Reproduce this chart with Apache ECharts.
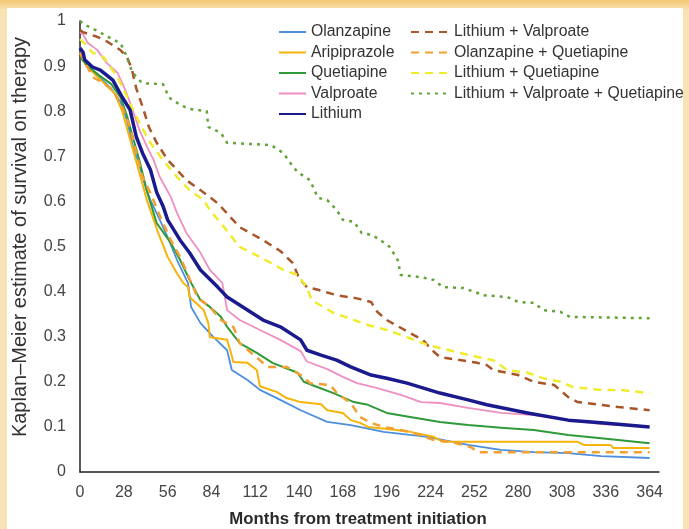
<!DOCTYPE html>
<html>
<head>
<meta charset="utf-8">
<script src="https://cdn.jsdelivr.net/npm/echarts@6/dist/echarts.min.js"></script>
<style>
  html, body { margin: 0; padding: 0; background: #f9e2b4; }
  #chart { width: 689px; height: 529px; }
</style>
</head>
<body>
<div id="chart"></div>
<script>
// Kaplan–Meier survival-on-therapy curves, [day, estimate] pairs
const olanzapine = [[0,0.93],[3,0.91],[8,0.89],[14,0.87],[20,0.85],[26,0.82],[30,0.78],[34,0.72],[38,0.68],[42,0.63],[45,0.603],[51,0.559],[56,0.521],[62,0.47],[69,0.419],[71,0.366],[77,0.33],[85,0.3],[94,0.27],[97,0.226],[107,0.204],[115,0.182],[128,0.16],[141,0.137],[158,0.111],[173,0.104],[194,0.089],[222,0.078],[248,0.06],[269,0.049],[290,0.044],[312,0.042],[333,0.035],[364,0.031]];
const aripiprazole = [[0,0.93],[4,0.9],[10,0.88],[16,0.86],[22,0.84],[27,0.8],[31,0.75],[35,0.7],[39,0.65],[43,0.6],[50,0.53],[56,0.477],[62,0.44],[66,0.419],[69,0.41],[70,0.388],[79,0.359],[82,0.33],[83,0.299],[94,0.293],[96,0.27],[98,0.244],[107,0.242],[113,0.226],[115,0.19],[126,0.177],[132,0.164],[141,0.155],[154,0.15],[158,0.137],[168,0.131],[173,0.115],[179,0.109],[184,0.1],[198,0.095],[211,0.089],[226,0.078],[232,0.067],[318,0.067],[322,0.06],[339,0.06],[341,0.053],[364,0.053]];
const quetiapine = [[0,0.92],[5,0.9],[12,0.88],[20,0.86],[26,0.83],[30,0.79],[34,0.74],[38,0.69],[43,0.62],[49,0.552],[58,0.508],[64,0.47],[70,0.426],[77,0.381],[83,0.366],[90,0.344],[94,0.322],[102,0.286],[113,0.264],[123,0.242],[139,0.22],[143,0.2],[152,0.188],[162,0.175],[175,0.155],[184,0.149],[196,0.131],[211,0.122],[230,0.111],[248,0.104],[269,0.098],[290,0.093],[312,0.082],[333,0.075],[364,0.064]];
const valproate = [[0,0.975],[2,0.97],[5,0.951],[11,0.936],[17,0.907],[24,0.885],[29,0.847],[33,0.809],[38,0.758],[43,0.72],[47,0.692],[51,0.654],[58,0.61],[62,0.574],[68,0.53],[77,0.486],[83,0.448],[91,0.419],[94,0.359],[102,0.337],[115,0.315],[128,0.293],[141,0.268],[145,0.245],[158,0.228],[168,0.211],[177,0.197],[190,0.186],[205,0.171],[218,0.155],[230,0.153],[248,0.142],[269,0.131],[290,0.126],[312,0.115],[333,0.106],[364,0.1]];
const lithium = [[0,0.94],[2,0.93],[3,0.914],[8,0.898],[13,0.891],[17,0.88],[21,0.869],[27,0.831],[32,0.803],[36,0.743],[40,0.707],[45,0.67],[49,0.62],[53,0.59],[56,0.559],[64,0.514],[70,0.486],[77,0.448],[88,0.41],[94,0.388],[107,0.359],[117,0.337],[128,0.322],[141,0.293],[145,0.27],[154,0.259],[164,0.248],[173,0.233],[186,0.215],[196,0.208],[209,0.197],[230,0.175],[248,0.16],[260,0.149],[286,0.131],[312,0.115],[333,0.109],[364,0.1]];
const lithiumValproate = [[0,0.98],[2,0.975],[11,0.965],[17,0.955],[26,0.935],[30,0.92],[33,0.895],[36,0.85],[40,0.81],[44,0.765],[49,0.73],[56,0.692],[62,0.67],[68,0.647],[77,0.625],[88,0.596],[102,0.543],[117,0.514],[128,0.49],[136,0.463],[140,0.43],[145,0.41],[152,0.404],[164,0.392],[177,0.385],[186,0.377],[190,0.355],[196,0.337],[211,0.308],[219,0.293],[225,0.27],[230,0.255],[254,0.242],[260,0.237],[264,0.226],[280,0.215],[290,0.2],[303,0.193],[312,0.166],[318,0.155],[333,0.149],[344,0.144],[364,0.137]];
const olanzapineQuetiapine = [[0,0.93],[3,0.91],[6,0.89],[8,0.876],[15,0.862],[21,0.847],[27,0.809],[32,0.765],[36,0.707],[40,0.654],[45,0.619],[52,0.56],[58,0.514],[64,0.477],[75,0.388],[83,0.366],[90,0.337],[98,0.322],[102,0.286],[120,0.233],[132,0.233],[141,0.215],[147,0.197],[160,0.193],[164,0.175],[173,0.153],[179,0.122],[186,0.109],[194,0.1],[211,0.089],[226,0.071],[237,0.067],[250,0.055],[254,0.044],[364,0.044]];
const lithiumQuetiapine = [[0,0.96],[3,0.95],[8,0.93],[15,0.92],[18,0.905],[24,0.875],[28,0.847],[33,0.809],[38,0.774],[45,0.73],[53,0.692],[62,0.654],[70,0.625],[79,0.603],[83,0.581],[92,0.543],[102,0.499],[115,0.477],[130,0.448],[139,0.437],[145,0.41],[148,0.381],[162,0.353],[184,0.326],[196,0.315],[209,0.299],[222,0.282],[230,0.275],[243,0.264],[254,0.255],[264,0.248],[273,0.226],[286,0.22],[296,0.208],[307,0.2],[315,0.188],[333,0.182],[345,0.182],[364,0.175]];
const lithiumValproateQuetiapine = [[0,1.0],[4,0.99],[10,0.98],[18,0.965],[26,0.95],[30,0.92],[33,0.89],[36,0.875],[40,0.862],[53,0.86],[57,0.83],[64,0.814],[70,0.805],[81,0.8],[82,0.765],[90,0.752],[94,0.73],[122,0.725],[130,0.707],[134,0.687],[139,0.665],[147,0.647],[152,0.608],[158,0.603],[164,0.581],[168,0.559],[175,0.555],[180,0.53],[187,0.525],[192,0.514],[198,0.499],[203,0.47],[205,0.437],[218,0.432],[226,0.426],[232,0.41],[245,0.408],[254,0.397],[258,0.392],[273,0.388],[280,0.377],[290,0.375],[296,0.359],[307,0.355],[313,0.344],[364,0.341]];

const xTicks = [0, 28, 56, 84, 112, 140, 168, 196, 224, 252, 280, 308, 336, 364];
const xTitle = 'Months from treatment initiation';
const yTitle = 'Kaplan–Meier estimate of survival on therapy';

const seriesDefs = [
  { name: 'Olanzapine', data: olanzapine, color: '#4d8fdc', width: 1.8, type: 'solid' },
  { name: 'Aripiprazole', data: aripiprazole, color: '#f6b40a', width: 2, type: 'solid' },
  { name: 'Quetiapine', data: quetiapine, color: '#2f9a3a', width: 2, type: 'solid' },
  { name: 'Valproate', data: valproate, color: '#ef8fc2', width: 1.8, type: 'solid' },
  { name: 'Lithium', data: lithium, color: '#1a1a8e', width: 3.5, type: 'solid' },
  { name: 'Lithium + Valproate', data: lithiumValproate, color: '#a8552a', width: 2.5, type: [8, 6] },
  { name: 'Olanzapine + Quetiapine', data: olanzapineQuetiapine, color: '#f2a032', width: 2.5, type: [8, 6] },
  { name: 'Lithium + Quetiapine', data: lithiumQuetiapine, color: '#eeec2c', width: 2.5, type: [8, 6] },
  { name: 'Lithium + Valproate + Quetiapine', data: lithiumValproateQuetiapine, color: '#62a43a', width: 2.5, type: [3, 5] }
];

const FONT = 'Liberation Sans, Arial, sans-serif';
const chart = echarts.init(document.getElementById('chart'), null, { renderer: 'canvas' });

const legendText = { fontFamily: FONT, fontSize: 15.8, color: '#333' };
const legendBase = {
  orient: 'vertical', top: 19,
  itemHeight: 12, itemGap: 4.5,
  itemStyle: { opacity: 0 },
  textStyle: legendText
};

chart.setOption({
  animation: false,
  backgroundColor: '#f9e2b4',
  graphic: [
    {
      type: 'rect', shape: { x: 0, y: 0, width: 689, height: 9 }, z: -11,
      style: { fill: new echarts.graphic.LinearGradient(0, 0, 0, 1, [
        { offset: 0, color: '#f3c875' }, { offset: 1, color: '#f8dda8' }
      ]) }
    },
    { type: 'rect', shape: { x: 7, y: 8, width: 676, height: 521 }, style: { fill: '#ffffff' }, z: -10 },
    {
      type: 'text', x: 20, y: 237, rotation: Math.PI / 2,
      style: { text: yTitle, font: '20px ' + FONT, fill: '#333', align: 'center', verticalAlign: 'middle' }
    },
    {
      type: 'text', x: 358, y: 519,
      style: { text: xTitle, font: 'bold 16.8px ' + FONT, fill: '#2a2a2a', align: 'center', verticalAlign: 'middle' }
    }
  ],
  grid: { left: 80, right: 30, top: 21, bottom: 57, containLabel: false },
  legend: [
    Object.assign({ data: seriesDefs.slice(0, 5).map(s => s.name), left: 273, itemWidth: 27 }, legendBase),
    Object.assign({ data: seriesDefs.slice(5).map(s => s.name), left: 405, itemWidth: 38 }, legendBase)
  ],
  xAxis: {
    type: 'value', min: 0, max: 370, interval: 28,
    axisLine: { lineStyle: { color: '#222', width: 1.5 } },
    axisTick: { show: false },
    splitLine: { show: false },
    axisLabel: {
      showMaxLabel: false, margin: 13,
      fontFamily: FONT, fontSize: 16, color: '#444',
      formatter: v => (xTicks.includes(v) ? String(v) : '')
    }
  },
  yAxis: {
    type: 'value', min: 0, max: 1, interval: 0.1,
    axisLine: { show: true, lineStyle: { color: '#222', width: 1.5 } },
    axisTick: { show: false },
    splitLine: { show: false },
    axisLabel: {
      margin: 14,
      fontFamily: FONT, fontSize: 16, color: '#444',
      formatter: v => String(Math.round(v * 10) / 10)
    }
  },
  series: seriesDefs.map(s => ({
    name: s.name,
    type: 'line',
    data: s.data,
    symbol: 'none',
    showSymbol: false,
    color: s.color,
    lineStyle: { color: s.color, width: s.width, type: s.type, cap: 'butt', join: 'round' },
    z: s.name === 'Lithium' ? 5 : 3
  }))
});
</script>
</body>
</html>
